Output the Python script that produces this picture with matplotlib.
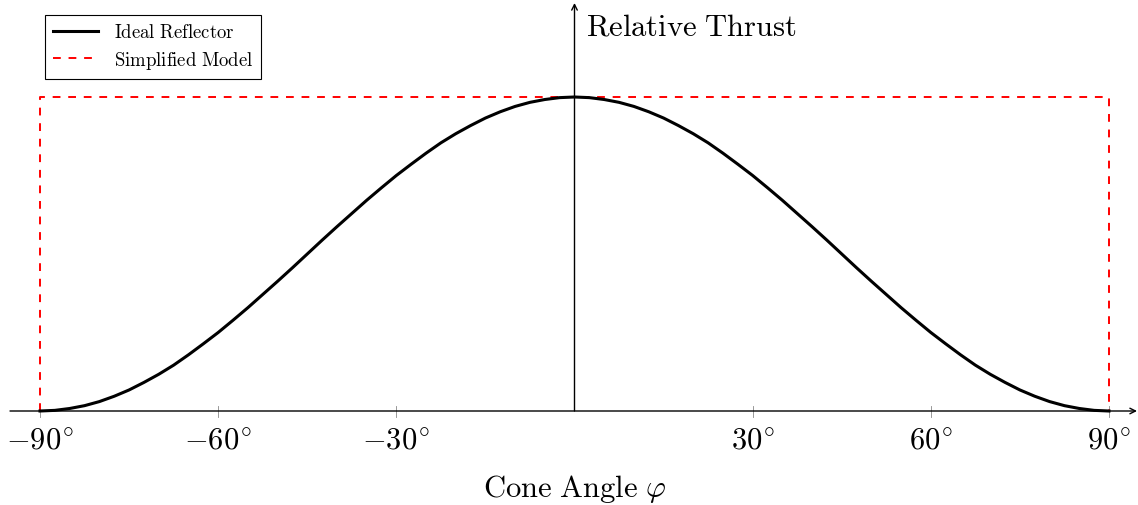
import numpy as np
import matplotlib
matplotlib.use('Agg')
import matplotlib.pyplot as plt

plt.rcParams['mathtext.fontset'] = 'cm'

# relative thrust of the ideal reflector, read every 2.5 degrees from 0 to 90
half = [1.0, 0.998, 0.992, 0.983, 0.970, 0.953, 0.933, 0.909, 0.883, 0.854,
        0.821, 0.786, 0.75, 0.711, 0.671, 0.629, 0.587, 0.544, 0.5, 0.456,
        0.413, 0.371, 0.329, 0.289, 0.25, 0.214, 0.179, 0.146, 0.117, 0.091,
        0.067, 0.047, 0.030, 0.017, 0.008, 0.002, 0.0]
angles = np.linspace(-90, 90, 2 * len(half) - 1)
thrust = half[::-1][:-1] + half

# simplified model: full thrust across the whole cone
model_x = [-90, -90, 90, 90]
model_y = [0, 1, 1, 0]

tick_vals = [-90, -60, -30, 30, 60, 90]
tick_labels = [r'$-90^{\!\circ}$', r'$-60^{\!\circ}$', r'$-30^{\!\circ}$',
               r'$30^{\!\circ}$', r'$60^{\!\circ}$', r'$90^{\!\circ}$']

W, H = 1138, 506
fig = plt.figure(figsize=(W / 100, H / 100), dpi=100)
ax = fig.add_axes([0, 0, 1, 1])
ax.set_axis_off()

# pixel -> data mapping
x0, sx = 574.5, 1069 / 180.0
y0, sy = 412.0, 314.0
ax.set_xlim((0 - x0) / sx, (W - x0) / sx)
ax.set_ylim((y0 - H) / sy, y0 / sy)

# axes with arrows
ax.annotate('', xy=((1137 - x0) / sx, 0), xytext=((10 - x0) / sx, 0),
            arrowprops=dict(arrowstyle='->', lw=1.0, color='black', shrinkA=0, shrinkB=0))
ax.annotate('', xy=(0, (y0 - 4) / sy), xytext=(0, 0),
            arrowprops=dict(arrowstyle='->', lw=1.0, color='black', shrinkA=0, shrinkB=0))

for v, lab in zip(tick_vals, tick_labels):
    ax.plot([v, v], [5.5 / sy, -5.5 / sy], color='#888888', lw=0.6, zorder=1)
    ax.text(v, -29 / sy, lab, ha='center', va='center', fontsize=22)

ax.plot(angles, thrust, color='black', lw=2.2, label=r'$\mathrm{Ideal\ Reflector}$', zorder=3)
ax.plot(model_x, model_y, color='red', lw=1.4, dashes=(4, 4), label=r'$\mathrm{Simplified\ Model}$', zorder=2)

ax.text((586 - x0) / sx, (y0 - 27) / sy, r'$\mathrm{Relative\ Thrust}$', ha='left', va='center', fontsize=22)
ax.text(0, (y0 - 489) / sy, r'$\mathrm{Cone\ Angle}\ \varphi$', ha='center', va='center', fontsize=22)

leg = ax.legend(loc='upper left', bbox_to_anchor=(45 / W, 1 - 16 / H), bbox_transform=fig.transFigure,
                borderaxespad=0, fontsize=13.5, fancybox=False, edgecolor='black', framealpha=1,
                handlelength=2.4, handletextpad=0.9, labelspacing=0.4, borderpad=0.4)
leg.get_frame().set_linewidth(0.8)

fig.savefig('out.png', dpi=100)
